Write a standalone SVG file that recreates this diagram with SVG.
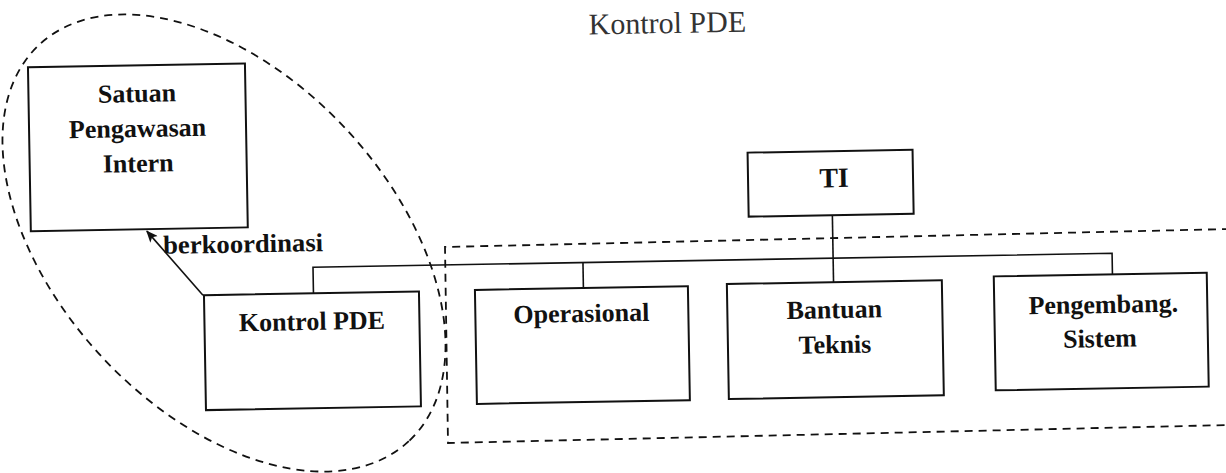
<svg xmlns="http://www.w3.org/2000/svg" width="1226" height="473" viewBox="0 0 1226 473">
<defs>
<style>
.box{fill:#fff;stroke:#111;stroke-width:2}
.ln{fill:none;stroke:#111;stroke-width:1.6}
.dash{fill:none;stroke:#111;stroke-width:1.8;stroke-dasharray:8 6}
.t{font-family:"Liberation Serif","Times New Roman",serif;font-size:26px;font-weight:bold;fill:#111;text-anchor:middle}
.lbl{font-family:"Liberation Serif","Times New Roman",serif;font-size:26px;font-weight:bold;fill:#111}
.title{font-family:"Liberation Serif","Times New Roman",serif;font-size:30px;fill:#333;text-anchor:middle}
</style>
<marker id="ah" viewBox="0 0 12 10" refX="11" refY="5" markerWidth="13" markerHeight="10" orient="auto" markerUnits="userSpaceOnUse">
<path d="M0,0 L12,5 L0,10 L3,5 z" fill="#111"/>
</marker>
</defs>
<rect width="1226" height="473" fill="#fff"/>
<g id="groups">
<ellipse class="dash" cx="224" cy="243" rx="271" ry="167" transform="rotate(47 224 243)"/>
<path class="dash" d="M1230,229 L445,247 L448,443 L1230,425"/>
</g>
<g transform="rotate(-1 613 236)">
<text id="title" class="title" x="671" y="34">Kontrol PDE</text>
<g id="connectors">
<path class="ln" d="M312.5,288 V262 H1111.7 V283"/>
<path class="ln" d="M582.5,262 V287.5"/>
<path class="ln" d="M832.7,219 V286"/>
<path class="ln" d="M202,288 L147,223" marker-end="url(#ah)"/>
<text class="lbl" x="163" y="246" textLength="160" lengthAdjust="spacingAndGlyphs">berkoordinasi</text>
</g>
<g id="spi">
<rect class="box" x="31" y="57" width="217" height="164"/>
<text class="t" x="139.5" y="93.7">Satuan</text>
<text class="t" x="139.5" y="128.7">Pengawasan</text>
<text class="t" x="139.5" y="163.7">Intern</text>
</g>
<g id="ti">
<rect class="box" x="749" y="155" width="165" height="64"/>
<text class="t" x="835" y="191" style="font-size:28px">TI</text>
</g>
<g id="kontrol">
<rect class="box" x="203" y="288" width="215" height="115"/>
<text class="t" x="310.5" y="324.7">Kontrol PDE</text>
</g>
<g id="operasional">
<rect class="box" x="474" y="287.5" width="213" height="114"/>
<text class="t" x="580" y="321.4">Operasional</text>
</g>
<g id="bantuan">
<rect class="box" x="726" y="286" width="215" height="115"/>
<text class="t" x="833" y="322">Bantuan</text>
<text class="t" x="833" y="357">Teknis</text>
</g>
<g id="pengembang">
<rect class="box" x="993" y="283" width="213" height="114"/>
<text class="t" x="1102" y="321.6">Pengembang.</text>
<text class="t" x="1098" y="355.6">Sistem</text>
</g>
</g>
</svg>
